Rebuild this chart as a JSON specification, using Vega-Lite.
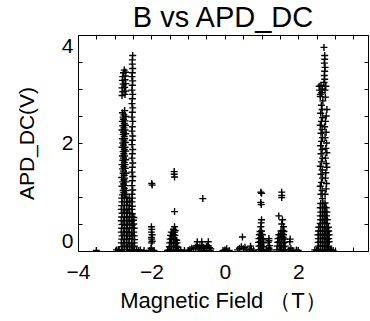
{
"$schema": "https://vega.github.io/schema/vega-lite/v6.json",
"autosize": "none",
"width": 290, "height": 216,
"padding": {"left": 78, "top": 35, "right": 2, "bottom": 70},
"background": "white",
"title": {"text": "B vs APD_DC", "fontSize": 29, "font": "Liberation Sans", "fontWeight": "normal", "color": "black", "offset": 2},
"config": {"view": {"stroke": "black", "strokeWidth": 1}, "axis": {"grid": false, "domain": false, "tickColor": "black", "labelColor": "black", "titleColor": "black", "labelFont": "Liberation Sans", "titleFont": "Liberation Sans", "titleFontWeight": "normal", "tickSize": -4, "format": "d"}},
"datasets": {"d": [
{"B":-2.81,"V":0.02},{"B":-2.74,"V":0.03},{"B":-2.67,"V":0.02},{"B":-2.6,"V":0.01},{"B":-2.53,"V":0.03},{"B":-2.47,"V":0.02},
{"B":-2.8,"V":0.08},{"B":-2.73,"V":0.09},{"B":-2.66,"V":0.08},{"B":-2.59,"V":0.09},{"B":-2.52,"V":0.08},{"B":-2.46,"V":0.09},
{"B":-2.82,"V":0.15},{"B":-2.75,"V":0.15},{"B":-2.68,"V":0.16},{"B":-2.61,"V":0.15},{"B":-2.54,"V":0.14},{"B":-2.47,"V":0.15},
{"B":-2.81,"V":0.22},{"B":-2.74,"V":0.21},{"B":-2.67,"V":0.22},{"B":-2.6,"V":0.23},{"B":-2.53,"V":0.22},{"B":-2.46,"V":0.21},
{"B":-2.8,"V":0.28},{"B":-2.73,"V":0.29},{"B":-2.66,"V":0.28},{"B":-2.59,"V":0.28},{"B":-2.52,"V":0.29},{"B":-2.47,"V":0.28},
{"B":-2.82,"V":0.35},{"B":-2.75,"V":0.35},{"B":-2.68,"V":0.36},{"B":-2.61,"V":0.35},{"B":-2.54,"V":0.34},{"B":-2.48,"V":0.35},
{"B":-2.81,"V":0.42},{"B":-2.74,"V":0.42},{"B":-2.67,"V":0.41},{"B":-2.6,"V":0.42},{"B":-2.53,"V":0.43},{"B":-2.47,"V":0.42},
{"B":-2.8,"V":0.49},{"B":-2.73,"V":0.48},{"B":-2.66,"V":0.49},{"B":-2.59,"V":0.49},{"B":-2.52,"V":0.48},{"B":-2.48,"V":0.5},
{"B":-2.82,"V":0.56},{"B":-2.75,"V":0.56},{"B":-2.68,"V":0.57},{"B":-2.61,"V":0.56},{"B":-2.54,"V":0.55},{"B":-2.49,"V":0.57},
{"B":-2.81,"V":0.63},{"B":-2.74,"V":0.63},{"B":-2.67,"V":0.62},{"B":-2.6,"V":0.63},{"B":-2.53,"V":0.64},{"B":-2.48,"V":0.62},
{"B":-2.8,"V":0.7},{"B":-2.73,"V":0.7},{"B":-2.66,"V":0.71},{"B":-2.59,"V":0.7},{"B":-2.52,"V":0.69},
{"B":-2.82,"V":0.77},{"B":-2.75,"V":0.77},{"B":-2.68,"V":0.76},{"B":-2.61,"V":0.78},{"B":-2.53,"V":0.77},
{"B":-2.81,"V":0.84},{"B":-2.74,"V":0.84},{"B":-2.67,"V":0.85},{"B":-2.6,"V":0.84},{"B":-2.52,"V":0.83},
{"B":-2.8,"V":0.91},{"B":-2.73,"V":0.91},{"B":-2.66,"V":0.9},{"B":-2.59,"V":0.92},{"B":-2.53,"V":0.91},
{"B":-2.81,"V":0.98},{"B":-2.74,"V":0.98},{"B":-2.67,"V":0.99},{"B":-2.6,"V":0.97},{"B":-2.52,"V":0.98},
{"B":-2.79,"V":1.04},{"B":-2.71,"V":1.05},{"B":-2.77,"V":1.12},{"B":-2.69,"V":1.12},{"B":-2.8,"V":1.2},{"B":-2.72,"V":1.21},
{"B":-2.78,"V":1.28},{"B":-2.7,"V":1.28},{"B":-2.81,"V":1.36},{"B":-2.73,"V":1.35},{"B":-2.77,"V":1.44},{"B":-2.69,"V":1.44},
{"B":-2.79,"V":1.52},{"B":-2.71,"V":1.53},{"B":-2.8,"V":1.6},{"B":-2.72,"V":1.6},{"B":-2.78,"V":1.68},{"B":-2.7,"V":1.69},
{"B":-2.79,"V":1.76},{"B":-2.73,"V":1.76},{"B":-2.77,"V":1.84},{"B":-2.7,"V":1.85},{"B":-2.8,"V":1.92},{"B":-2.72,"V":1.92},
{"B":-2.78,"V":2.0},{"B":-2.71,"V":2.01},{"B":-2.79,"V":2.08},{"B":-2.73,"V":2.08},{"B":-2.77,"V":2.16},{"B":-2.7,"V":2.17},
{"B":-2.8,"V":2.24},{"B":-2.72,"V":2.24},{"B":-2.78,"V":2.32},{"B":-2.71,"V":2.33},{"B":-2.79,"V":2.4},{"B":-2.72,"V":2.41},
{"B":-2.77,"V":2.48},{"B":-2.7,"V":2.49},{"B":-2.79,"V":2.56},{"B":-2.73,"V":2.6},
{"B":-2.75,"V":1.08},{"B":-2.74,"V":1.16},{"B":-2.76,"V":1.24},{"B":-2.75,"V":1.32},{"B":-2.74,"V":1.4},{"B":-2.76,"V":1.48},
{"B":-2.75,"V":1.56},{"B":-2.74,"V":1.64},{"B":-2.76,"V":1.72},{"B":-2.75,"V":1.8},{"B":-2.74,"V":1.88},{"B":-2.76,"V":1.96},
{"B":-2.75,"V":2.04},{"B":-2.74,"V":2.12},{"B":-2.76,"V":2.2},{"B":-2.75,"V":2.28},{"B":-2.74,"V":2.36},{"B":-2.76,"V":2.44},{"B":-2.75,"V":2.52},
{"B":-2.8,"V":2.88},{"B":-2.72,"V":2.9},{"B":-2.78,"V":2.95},{"B":-2.7,"V":2.96},{"B":-2.8,"V":3.02},{"B":-2.73,"V":3.03},
{"B":-2.77,"V":3.09},{"B":-2.7,"V":3.1},{"B":-2.79,"V":3.16},{"B":-2.72,"V":3.17},{"B":-2.78,"V":3.23},{"B":-2.71,"V":3.24},
{"B":-2.76,"V":3.3},{"B":-2.7,"V":3.31},{"B":-2.74,"V":3.35},
{"B":-2.53,"V":1.05},{"B":-2.51,"V":1.13},{"B":-2.53,"V":1.21},{"B":-2.52,"V":1.3},{"B":-2.51,"V":1.38},{"B":-2.53,"V":1.46},
{"B":-2.52,"V":1.55},{"B":-2.51,"V":1.63},{"B":-2.53,"V":1.72},{"B":-2.52,"V":1.8},{"B":-2.51,"V":1.88},{"B":-2.53,"V":1.97},
{"B":-2.52,"V":2.05},{"B":-2.51,"V":2.13},{"B":-2.53,"V":2.22},{"B":-2.52,"V":2.3},{"B":-2.51,"V":2.4},{"B":-2.53,"V":2.48},
{"B":-2.52,"V":2.57},{"B":-2.51,"V":2.65},{"B":-2.53,"V":2.73},{"B":-2.52,"V":2.82},{"B":-2.51,"V":2.9},{"B":-2.53,"V":2.98},
{"B":-2.52,"V":3.07},{"B":-2.51,"V":3.15},{"B":-2.53,"V":3.23},{"B":-2.52,"V":3.3},{"B":-2.51,"V":3.38},{"B":-2.52,"V":3.46},
{"B":-2.52,"V":3.54},{"B":-2.51,"V":3.62},
{"B":-3.5,"V":0.01},{"B":-2.95,"V":0.02},{"B":-2.9,"V":0.03},{"B":-2.88,"V":0.01},{"B":-2.4,"V":0.02},{"B":-2.35,"V":0.01},{"B":-2.3,"V":0.02},{"B":-2.2,"V":0.01},
{"B":-1.99,"V":1.25},{"B":-1.98,"V":1.22},{"B":-2.0,"V":0.45},{"B":-1.99,"V":0.4},{"B":-2.0,"V":0.35},{"B":-1.98,"V":0.3},{"B":-2.0,"V":0.25},{"B":-1.99,"V":0.22},{"B":-1.98,"V":0.18},{"B":-2.0,"V":0.15},{"B":-1.99,"V":0.02},{"B":-2.01,"V":0.05},{"B":-2.05,"V":0.01},{"B":-1.93,"V":0.01},
{"B":-1.38,"V":1.47},{"B":-1.38,"V":1.42},{"B":-1.37,"V":1.37},{"B":-1.37,"V":0.73},{"B":-1.37,"V":0.45},{"B":-1.4,"V":0.4},{"B":-1.35,"V":0.38},
{"B":-1.52,"V":0.02},{"B":-1.46,"V":0.03},{"B":-1.4,"V":0.02},{"B":-1.34,"V":0.01},{"B":-1.3,"V":0.02},
{"B":-1.51,"V":0.08},{"B":-1.45,"V":0.09},{"B":-1.39,"V":0.08},{"B":-1.33,"V":0.09},{"B":-1.29,"V":0.07},
{"B":-1.5,"V":0.15},{"B":-1.46,"V":0.16},{"B":-1.4,"V":0.15},{"B":-1.34,"V":0.14},{"B":-1.3,"V":0.15},
{"B":-1.49,"V":0.22},{"B":-1.45,"V":0.23},{"B":-1.39,"V":0.22},{"B":-1.35,"V":0.21},{"B":-1.31,"V":0.2},
{"B":-1.48,"V":0.29},{"B":-1.44,"V":0.28},{"B":-1.4,"V":0.3},{"B":-1.36,"V":0.29},
{"B":-1.46,"V":0.35},{"B":-1.41,"V":0.34},{"B":-1.37,"V":0.35},{"B":-1.56,"V":0.01},{"B":-1.26,"V":0.02},
{"B":-1.2,"V":0.02},{"B":-1.1,"V":0.01},{"B":-1.0,"V":0.01},{"B":-0.95,"V":0.03},{"B":-0.9,"V":0.05},{"B":-0.85,"V":0.04},{"B":-0.8,"V":0.07},{"B":-0.76,"V":0.1},{"B":-0.72,"V":0.06},{"B":-0.68,"V":0.08},{"B":-0.65,"V":0.04},{"B":-0.62,"V":0.1},{"B":-0.58,"V":0.07},{"B":-0.55,"V":0.05},{"B":-0.5,"V":0.09},{"B":-0.46,"V":0.1},{"B":-0.42,"V":0.06},{"B":-0.38,"V":0.04},{"B":-0.75,"V":0.17},{"B":-0.63,"V":0.17},{"B":-0.45,"V":0.17},{"B":-0.7,"V":0.02},{"B":-0.55,"V":0.01},{"B":-0.4,"V":0.01},
{"B":-0.6,"V":0.97},
{"B":0.0,"V":0.02},{"B":0.05,"V":0.04},{"B":0.12,"V":0.01},{"B":-0.05,"V":0.01},
{"B":0.48,"V":0.26},{"B":0.4,"V":0.05},{"B":0.45,"V":0.08},{"B":0.5,"V":0.04},{"B":0.55,"V":0.07},{"B":0.35,"V":0.02},{"B":0.6,"V":0.02},{"B":0.7,"V":0.09},{"B":0.72,"V":0.04},{"B":0.78,"V":0.01},{"B":0.68,"V":0.02},
{"B":0.98,"V":1.09},{"B":1.0,"V":1.07},{"B":0.98,"V":0.9},{"B":0.99,"V":0.86},{"B":1.0,"V":0.58},{"B":0.99,"V":0.52},{"B":0.98,"V":0.45},
{"B":0.92,"V":0.02},{"B":0.97,"V":0.03},{"B":1.02,"V":0.02},{"B":1.06,"V":0.01},
{"B":0.93,"V":0.09},{"B":0.97,"V":0.1},{"B":1.01,"V":0.09},{"B":1.05,"V":0.08},
{"B":0.92,"V":0.16},{"B":0.96,"V":0.17},{"B":1.02,"V":0.16},{"B":1.06,"V":0.15},
{"B":0.93,"V":0.23},{"B":0.97,"V":0.24},{"B":1.01,"V":0.23},{"B":1.05,"V":0.22},
{"B":0.94,"V":0.3},{"B":0.98,"V":0.31},{"B":1.02,"V":0.3},{"B":0.96,"V":0.36},{"B":1.0,"V":0.37},
{"B":1.2,"V":0.23},{"B":1.18,"V":0.16},{"B":1.22,"V":0.1},{"B":1.2,"V":0.05},{"B":1.15,"V":0.02},{"B":1.25,"V":0.02},{"B":1.2,"V":0.19},
{"B":1.55,"V":1.09},{"B":1.55,"V":1.03},{"B":1.55,"V":0.99},{"B":1.47,"V":0.65},{"B":1.57,"V":0.58},{"B":1.55,"V":0.5},{"B":1.6,"V":0.45},
{"B":1.42,"V":0.02},{"B":1.48,"V":0.03},{"B":1.54,"V":0.02},{"B":1.6,"V":0.01},{"B":1.64,"V":0.02},
{"B":1.43,"V":0.09},{"B":1.49,"V":0.09},{"B":1.53,"V":0.1},{"B":1.59,"V":0.08},{"B":1.64,"V":0.09},
{"B":1.44,"V":0.16},{"B":1.48,"V":0.17},{"B":1.54,"V":0.16},{"B":1.6,"V":0.15},{"B":1.63,"V":0.16},
{"B":1.45,"V":0.23},{"B":1.5,"V":0.24},{"B":1.55,"V":0.23},{"B":1.59,"V":0.25},{"B":1.63,"V":0.22},
{"B":1.47,"V":0.3},{"B":1.52,"V":0.31},{"B":1.56,"V":0.32},{"B":1.6,"V":0.3},
{"B":1.53,"V":0.37},{"B":1.58,"V":0.38},{"B":1.61,"V":0.36},
{"B":1.78,"V":0.22},{"B":1.77,"V":0.17},{"B":1.8,"V":0.05},{"B":1.75,"V":0.02},{"B":1.85,"V":0.01},{"B":1.95,"V":0.02},{"B":2.0,"V":0.01},
{"B":2.7,"V":3.77},{"B":2.72,"V":3.62},{"B":2.72,"V":3.55},{"B":2.71,"V":3.48},{"B":2.73,"V":3.4},{"B":2.72,"V":3.33},{"B":2.71,"V":3.25},{"B":2.72,"V":3.18},{"B":2.7,"V":3.12},{"B":2.75,"V":3.05},{"B":2.73,"V":2.98},{"B":2.74,"V":2.85},{"B":2.78,"V":2.62},{"B":2.76,"V":2.5},{"B":2.74,"V":2.4},{"B":2.72,"V":2.3},{"B":2.76,"V":2.2},{"B":2.73,"V":2.1},{"B":2.77,"V":2.0},{"B":2.75,"V":1.9},{"B":2.78,"V":1.82},{"B":2.74,"V":1.72},{"B":2.76,"V":1.62},{"B":2.78,"V":1.55},{"B":2.75,"V":1.45},{"B":2.74,"V":1.35},{"B":2.77,"V":1.25},{"B":2.76,"V":1.15},{"B":2.73,"V":1.05},
{"B":2.62,"V":3.07},{"B":2.66,"V":3.0},{"B":2.64,"V":2.93},{"B":2.6,"V":2.86},{"B":2.67,"V":2.78},{"B":2.63,"V":2.7},{"B":2.65,"V":2.62},{"B":2.61,"V":2.55},{"B":2.66,"V":2.47},{"B":2.63,"V":2.4},{"B":2.6,"V":2.33},{"B":2.65,"V":2.25},{"B":2.62,"V":2.18},{"B":2.66,"V":2.1},{"B":2.63,"V":2.03},{"B":2.61,"V":1.95},{"B":2.65,"V":1.88},{"B":2.62,"V":1.8},{"B":2.66,"V":1.72},{"B":2.63,"V":1.65},{"B":2.6,"V":1.57},{"B":2.65,"V":1.5},{"B":2.62,"V":1.42},{"B":2.66,"V":1.35},{"B":2.63,"V":1.27},{"B":2.6,"V":1.2},{"B":2.65,"V":1.12},{"B":2.62,"V":1.05},{"B":2.66,"V":0.97},
{"B":2.57,"V":3.05},{"B":2.58,"V":2.98},{"B":2.6,"V":2.9},
{"B":2.54,"V":0.02},{"B":2.6,"V":0.03},{"B":2.66,"V":0.02},{"B":2.72,"V":0.01},{"B":2.78,"V":0.03},{"B":2.84,"V":0.02},
{"B":2.55,"V":0.09},{"B":2.61,"V":0.09},{"B":2.67,"V":0.1},{"B":2.73,"V":0.09},{"B":2.79,"V":0.08},{"B":2.83,"V":0.09},
{"B":2.54,"V":0.16},{"B":2.6,"V":0.17},{"B":2.66,"V":0.16},{"B":2.72,"V":0.15},{"B":2.78,"V":0.16},{"B":2.84,"V":0.17},
{"B":2.55,"V":0.23},{"B":2.61,"V":0.23},{"B":2.67,"V":0.24},{"B":2.73,"V":0.23},{"B":2.79,"V":0.22},{"B":2.83,"V":0.23},
{"B":2.54,"V":0.3},{"B":2.6,"V":0.3},{"B":2.66,"V":0.31},{"B":2.72,"V":0.3},{"B":2.78,"V":0.29},{"B":2.84,"V":0.3},
{"B":2.55,"V":0.37},{"B":2.61,"V":0.37},{"B":2.67,"V":0.38},{"B":2.73,"V":0.37},{"B":2.79,"V":0.36},{"B":2.83,"V":0.37},
{"B":2.56,"V":0.44},{"B":2.6,"V":0.44},{"B":2.66,"V":0.45},{"B":2.72,"V":0.44},{"B":2.78,"V":0.43},{"B":2.82,"V":0.44},
{"B":2.6,"V":0.51},{"B":2.66,"V":0.51},{"B":2.72,"V":0.52},{"B":2.78,"V":0.51},
{"B":2.61,"V":0.58},{"B":2.67,"V":0.58},{"B":2.73,"V":0.59},{"B":2.79,"V":0.58},
{"B":2.6,"V":0.65},{"B":2.66,"V":0.65},{"B":2.72,"V":0.66},{"B":2.77,"V":0.65},
{"B":2.61,"V":0.72},{"B":2.67,"V":0.72},{"B":2.73,"V":0.73},{"B":2.78,"V":0.72},
{"B":2.6,"V":0.8},{"B":2.66,"V":0.8},{"B":2.72,"V":0.81},{"B":2.76,"V":0.8},
{"B":2.61,"V":0.88},{"B":2.67,"V":0.88},{"B":2.73,"V":0.89},
{"B":2.45,"V":0.02},{"B":2.5,"V":0.01},{"B":2.9,"V":0.02},{"B":2.95,"V":0.01},{"B":2.88,"V":0.03}
]},
"data": {"name": "d"},
"layer": [
{"mark": {"type": "point", "shape": "M-1,0H1M0,-1V1", "filled": false, "stroke": "black", "strokeWidth": 1.4, "size": 49, "opacity": 1, "clip": true},
 "encoding": {
  "x": {"field": "B", "type": "quantitative", "scale": {"domain": [-4, 3.9], "nice": false, "zero": false},
        "axis": {"orient": "bottom", "values": [-4,-3.5,-3,-2.5,-2,-1.5,-1,-0.5,0,0.5,1,1.5,2,2.5,3,3.5,4], "labelExpr": "datum.value % 2 == 0 ? datum.label : ''", "labelFontSize": 21, "labelPadding": 14, "labelFlush": false, "labelOverlap": false, "title": "Magnetic Field （T）", "titleFontSize": 22, "titlePadding": 8}},
  "y": {"field": "V", "type": "quantitative", "scale": {"domain": [0, 4], "nice": false, "zero": false},
        "axis": {"orient": "left", "values": [0,0.5,1,1.5,2,2.5,3,3.5,4], "labelExpr": "datum.value % 2 == 0 ? datum.label : ''", "labelFontSize": 21, "labelPadding": 9, "labelFlush": true, "labelOverlap": false, "title": "APD_DC(V)", "titleFontSize": 21, "titlePadding": 24}}
 }},
{"mark": {"type": "point", "opacity": 0},
 "encoding": {
  "x": {"field": "B", "type": "quantitative", "axis": {"orient": "top", "values": [-4,-3.5,-3,-2.5,-2,-1.5,-1,-0.5,0,0.5,1,1.5,2,2.5,3,3.5,4], "labels": false, "title": null}},
  "y": {"field": "V", "type": "quantitative", "axis": {"orient": "right", "values": [0,0.5,1,1.5,2,2.5,3,3.5,4], "labels": false, "title": null}}
 }}
],
"resolve": {"axis": {"x": "independent", "y": "independent"}}
}
